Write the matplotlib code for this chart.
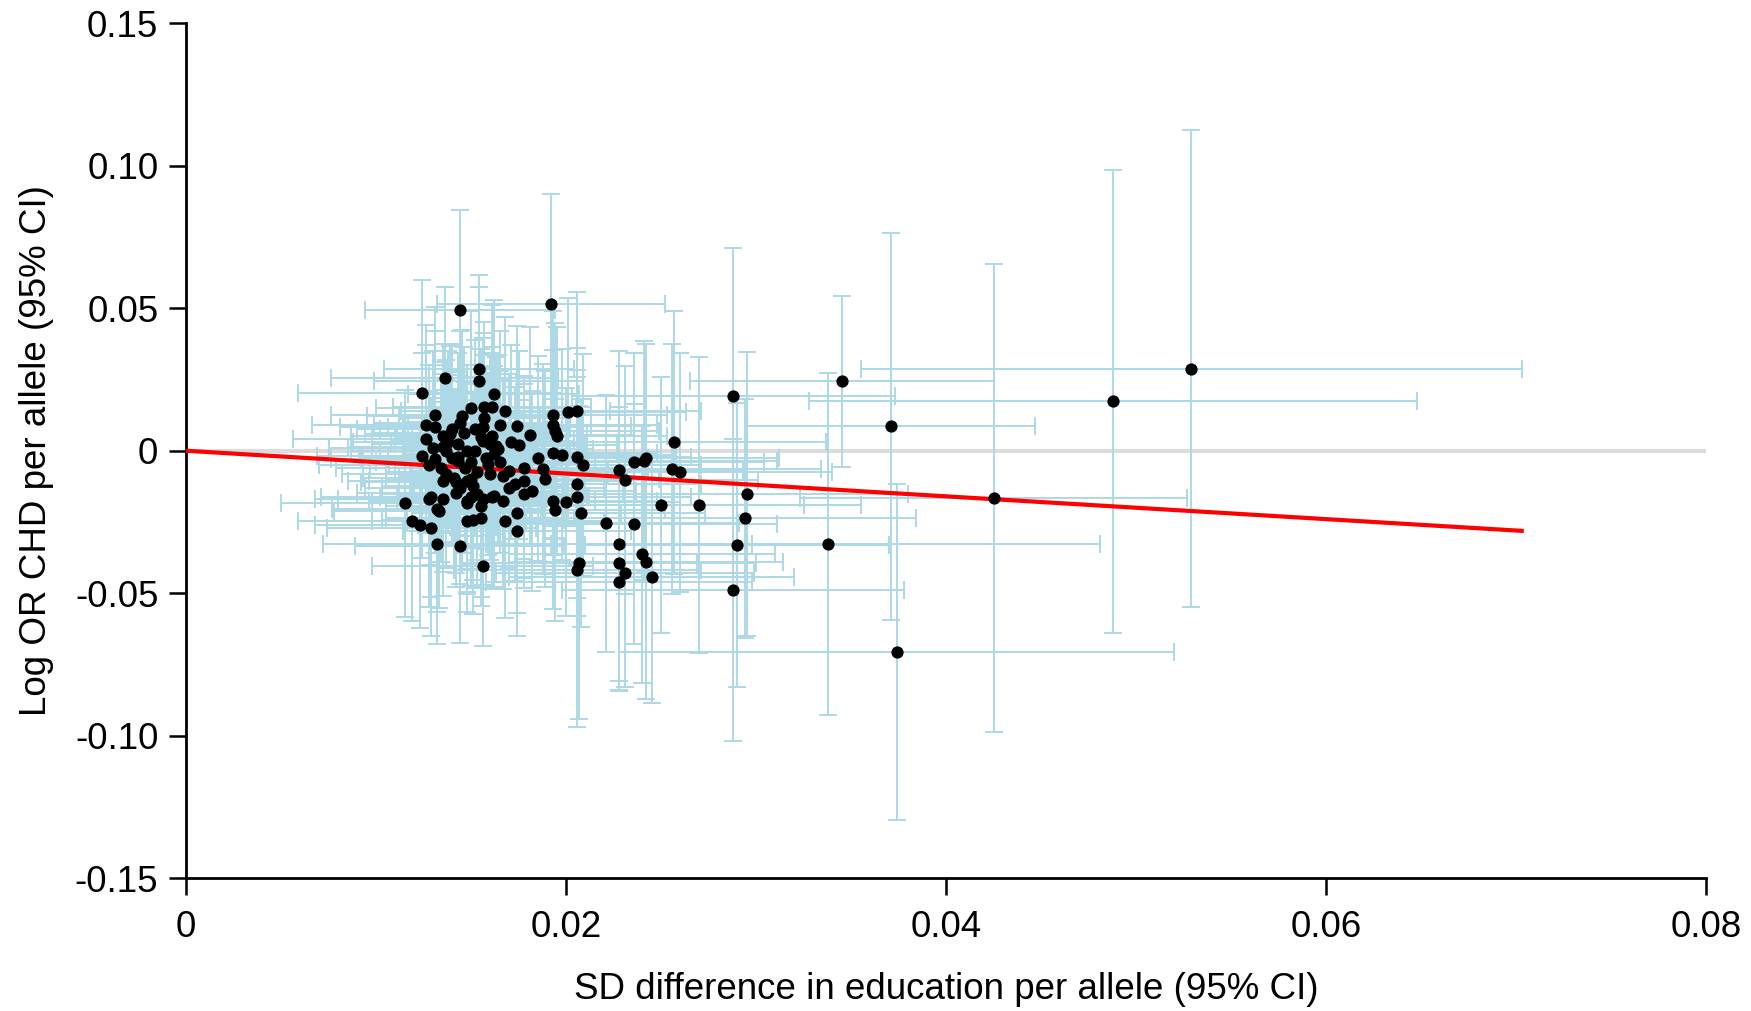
import matplotlib
matplotlib.use('Agg')
import matplotlib.pyplot as plt
import numpy as np

plt.rcParams['font.family'] = ['Liberation Sans', 'DejaVu Sans']

# SD difference in education per allele (point estimate) and CI half-width
edu_beta = [
    0.0144, 0.0192, 0.0154, 0.0154, 0.0136, 0.0124, 0.0162, 0.0131, 0.0126, 0.0131,
    0.0126, 0.0124, 0.0145, 0.0144, 0.0150, 0.0157, 0.0161, 0.0168, 0.0157, 0.0156,
    0.0165, 0.0174, 0.0181, 0.0171, 0.0139, 0.0135, 0.0143, 0.0148, 0.0155, 0.0160,
    0.0162, 0.0143, 0.0134, 0.0135, 0.0141, 0.0144, 0.0150, 0.0153, 0.0148, 0.0128,
    0.0133, 0.0115, 0.0119, 0.0123, 0.0129, 0.0132, 0.0144, 0.0156, 0.0148, 0.0151,
    0.0155, 0.0168, 0.0174, 0.0174, 0.0156, 0.0162, 0.0167, 0.0170, 0.0178, 0.0182,
    0.0178, 0.0185, 0.0188, 0.0189, 0.0193, 0.0193, 0.0195, 0.0193, 0.0198, 0.0201,
    0.0206, 0.0206, 0.0209, 0.0206, 0.0206, 0.0208, 0.0193, 0.0194, 0.0200, 0.0207,
    0.0206, 0.0221, 0.0228, 0.0228, 0.0231, 0.0228, 0.0236, 0.0240, 0.0242, 0.0245,
    0.0228, 0.0231, 0.0236, 0.0241, 0.0250, 0.0257, 0.0256, 0.0260, 0.0270, 0.0288,
    0.0288, 0.0290, 0.0294, 0.0295, 0.0338, 0.0345, 0.0371, 0.0374, 0.0425, 0.0488,
    0.0529, 0.0140, 0.0135, 0.0161, 0.0156, 0.0131, 0.0137, 0.0140, 0.0152, 0.0158,
    0.0164, 0.0163, 0.0143, 0.0142, 0.0148, 0.0151, 0.0160, 0.0167, 0.0129, 0.0135,
    0.0132, 0.0148, 0.0150, 0.0161, 0.0194, 0.0173, 0.0178, 0.0242, 0.0138, 0.0146,
    0.0152, 0.0159, 0.0147, 0.0153, 0.0137, 0.0165, 0.0170, 0.0155, 0.0142, 0.0128,
    0.0130, 0.0175, 0.0150,
]
edu_ci = [
    0.0050, 0.0060, 0.0050, 0.0055, 0.0060, 0.0065, 0.0045, 0.0055, 0.0060, 0.0050,
    0.0070, 0.0055, 0.0050, 0.0045, 0.0050, 0.0048, 0.0052, 0.0055, 0.0045, 0.0050,
    0.0048, 0.0060, 0.0055, 0.0050, 0.0045, 0.0050, 0.0045, 0.0050, 0.0045, 0.0050,
    0.0048, 0.0052, 0.0055, 0.0050, 0.0048, 0.0050, 0.0045, 0.0050, 0.0052, 0.0060,
    0.0055, 0.0065, 0.0060, 0.0055, 0.0055, 0.0060, 0.0055, 0.0058, 0.0050, 0.0048,
    0.0050, 0.0052, 0.0055, 0.0060, 0.0045, 0.0050, 0.0048, 0.0050, 0.0052, 0.0055,
    0.0050, 0.0058, 0.0055, 0.0060, 0.0060, 0.0055, 0.0058, 0.0055, 0.0060, 0.0062,
    0.0065, 0.0060, 0.0062, 0.0065, 0.0060, 0.0065, 0.0055, 0.0058, 0.0060, 0.0062,
    0.0065, 0.0070, 0.0070, 0.0072, 0.0068, 0.0070, 0.0075, 0.0070, 0.0072, 0.0075,
    0.0065, 0.0070, 0.0068, 0.0070, 0.0075, 0.0080, 0.0078, 0.0080, 0.0085, 0.0085,
    0.0090, 0.0080, 0.0090, 0.0085, 0.0143, 0.0080, 0.0076, 0.0146, 0.0102, 0.0160,
    0.0174, 0.0050, 0.0048, 0.0050, 0.0048, 0.0055, 0.0050, 0.0048, 0.0050, 0.0052,
    0.0050, 0.0048, 0.0050, 0.0050, 0.0052, 0.0048, 0.0050, 0.0055, 0.0058, 0.0055,
    0.0055, 0.0050, 0.0048, 0.0050, 0.0055, 0.0055, 0.0052, 0.0070, 0.0050, 0.0048,
    0.0050, 0.0052, 0.0050, 0.0048, 0.0055, 0.0050, 0.0052, 0.0050, 0.0052, 0.0058,
    0.0055, 0.0052, 0.0050,
]

# log OR for CHD per allele and CI half-width
chd_logor = [
    0.0495, 0.0515, 0.0287, 0.0245, 0.0254, 0.0201, 0.0198, 0.0125, 0.0092, 0.0082,
    0.0040, -0.0017, 0.0123, 0.0099, 0.0150, 0.0153, 0.0153, 0.0140, 0.0114, 0.0085,
    0.0089, 0.0088, 0.0054, 0.0030, 0.0058, 0.0012, 0.0023, 0.0000, 0.0048, 0.0023,
    -0.0012, -0.0023, -0.0059, -0.0105, -0.0094, -0.0129, -0.0100, -0.0152, -0.0176, -0.0170,
    -0.0211, -0.0185, -0.0248, -0.0262, -0.0271, -0.0328, -0.0334, -0.0404, -0.0246, -0.0243,
    -0.0236, -0.0246, -0.0220, -0.0281, -0.0170, -0.0158, -0.0176, -0.0129, -0.0105, -0.0141,
    -0.0059, -0.0026, -0.0064, -0.0100, 0.0125, 0.0092, 0.0053, -0.0007, -0.0014, 0.0135,
    0.0138, -0.0021, -0.0051, -0.0117, -0.0161, -0.0218, -0.0177, -0.0209, -0.0180, -0.0393,
    -0.0418, -0.0255, -0.0328, -0.0395, -0.0428, -0.0461, -0.0257, -0.0364, -0.0390, -0.0444,
    -0.0069, -0.0104, -0.0038, -0.0035, -0.0190, 0.0029, -0.0064, -0.0076, -0.0190, 0.0192,
    -0.0489, -0.0331, -0.0237, -0.0152, -0.0328, 0.0244, 0.0086, -0.0706, -0.0165, 0.0173,
    0.0288, 0.0076, 0.0053, 0.0053, 0.0035, -0.0029, 0.0000, -0.0026, 0.0000, -0.0026,
    0.0006, 0.0018, -0.0035, -0.0110, -0.0105, -0.0123, -0.0082, -0.0088, -0.0164, -0.0170,
    -0.0205, -0.0182, -0.0164, -0.0164, 0.0070, -0.0117, -0.0152, -0.0027, 0.0030, 0.0064,
    0.0078, -0.0046, -0.0060, -0.0075, -0.0080, -0.0040, -0.0070, -0.0195, -0.0150, -0.0050,
    0.0010, 0.0020, -0.0040,
]
chd_ci = [
    0.0350, 0.0385, 0.0330, 0.0330, 0.0320, 0.0400, 0.0330, 0.0380, 0.0350, 0.0340,
    0.0330, 0.0360, 0.0300, 0.0320, 0.0340, 0.0300, 0.0360, 0.0330, 0.0300, 0.0310,
    0.0330, 0.0350, 0.0380, 0.0340, 0.0310, 0.0300, 0.0320, 0.0300, 0.0310, 0.0320,
    0.0310, 0.0300, 0.0330, 0.0320, 0.0310, 0.0340, 0.0300, 0.0330, 0.0320, 0.0380,
    0.0340, 0.0400, 0.0350, 0.0360, 0.0380, 0.0350, 0.0340, 0.0280, 0.0320, 0.0330,
    0.0310, 0.0340, 0.0350, 0.0370, 0.0300, 0.0320, 0.0310, 0.0330, 0.0340, 0.0350,
    0.0320, 0.0360, 0.0370, 0.0380, 0.0390, 0.0400, 0.0380, 0.0360, 0.0370, 0.0400,
    0.0420, 0.0380, 0.0390, 0.0400, 0.0420, 0.0400, 0.0380, 0.0390, 0.0400, 0.0550,
    0.0550, 0.0450, 0.0480, 0.0450, 0.0400, 0.0380, 0.0420, 0.0450, 0.0480, 0.0440,
    0.0420, 0.0400, 0.0380, 0.0420, 0.0450, 0.0460, 0.0440, 0.0420, 0.0520, 0.0520,
    0.0530, 0.0500, 0.0420, 0.0500, 0.0600, 0.0300, 0.0680, 0.0590, 0.0822, 0.0812,
    0.0838, 0.0300, 0.0320, 0.0310, 0.0300, 0.0330, 0.0320, 0.0310, 0.0300, 0.0320,
    0.0330, 0.0310, 0.0300, 0.0320, 0.0310, 0.0330, 0.0300, 0.0340, 0.0350, 0.0340,
    0.0360, 0.0320, 0.0310, 0.0320, 0.0380, 0.0340, 0.0330, 0.0400, 0.0320, 0.0300,
    0.0310, 0.0320, 0.0300, 0.0310, 0.0330, 0.0320, 0.0340, 0.0320, 0.0330, 0.0350,
    0.0340, 0.0330, 0.0300,
]

# IVW slope (line through origin)
ivw_slope = -0.40

xticks = [0, 0.02, 0.04, 0.06, 0.08]
xticklabels = ['0', '0.02', '0.04', '0.06', '0.08']
yticks = [-0.15, -0.10, -0.05, 0, 0.05, 0.10, 0.15]
yticklabels = ['-0.15', '-0.10', '-0.05', '0', '0.05', '0.10', '0.15']

edu_beta = np.array(edu_beta)
edu_ci = np.array(edu_ci)
chd_logor = np.array(chd_logor)
chd_ci = np.array(chd_ci)

fig = plt.figure(figsize=(17.51, 10.11), dpi=100)
ax = fig.add_axes([0.1063, 0.1315, 0.868, 0.8453])

ax.plot([0, 0.08], [0, 0], color='#dcdcdc', lw=3, zorder=1, solid_capstyle='butt')
ax.errorbar(edu_beta, chd_logor, xerr=edu_ci, yerr=chd_ci, fmt='none',
            ecolor='#add8e6', elinewidth=1.4, capsize=6.5, capthick=1.4, zorder=2)
x_end = (edu_beta + edu_ci).max()
ax.plot([0, x_end], [0, ivw_slope * x_end], color='red', lw=3, zorder=3)
ax.plot(edu_beta, chd_logor, 'o', color='black', ms=7.8, mec='black', zorder=4)

ax.set_xlim(0, 0.08)
ax.set_ylim(-0.15, 0.15)
ax.set_xticks(xticks)
ax.set_xticklabels(xticklabels)
ax.set_yticks(yticks)
ax.set_yticklabels(yticklabels)

for s in ['top', 'right']:
    ax.spines[s].set_visible(False)
for s in ['left', 'bottom']:
    ax.spines[s].set_linewidth(2)
ax.tick_params(direction='out', length=12, width=1.8, labelsize=26.5)
ax.tick_params(axis='y', pad=8)
ax.tick_params(axis='x', pad=11)

ax.set_xlabel('SD difference in education per allele (95% CI)', fontsize=26.5)
ax.set_ylabel('Log OR CHD per allele (95% CI)', fontsize=26.5)
ax.xaxis.set_label_coords(0.5, -0.110)
ax.yaxis.set_label_coords(-0.087, 0.5)

fig.savefig('out.png', dpi=100)
